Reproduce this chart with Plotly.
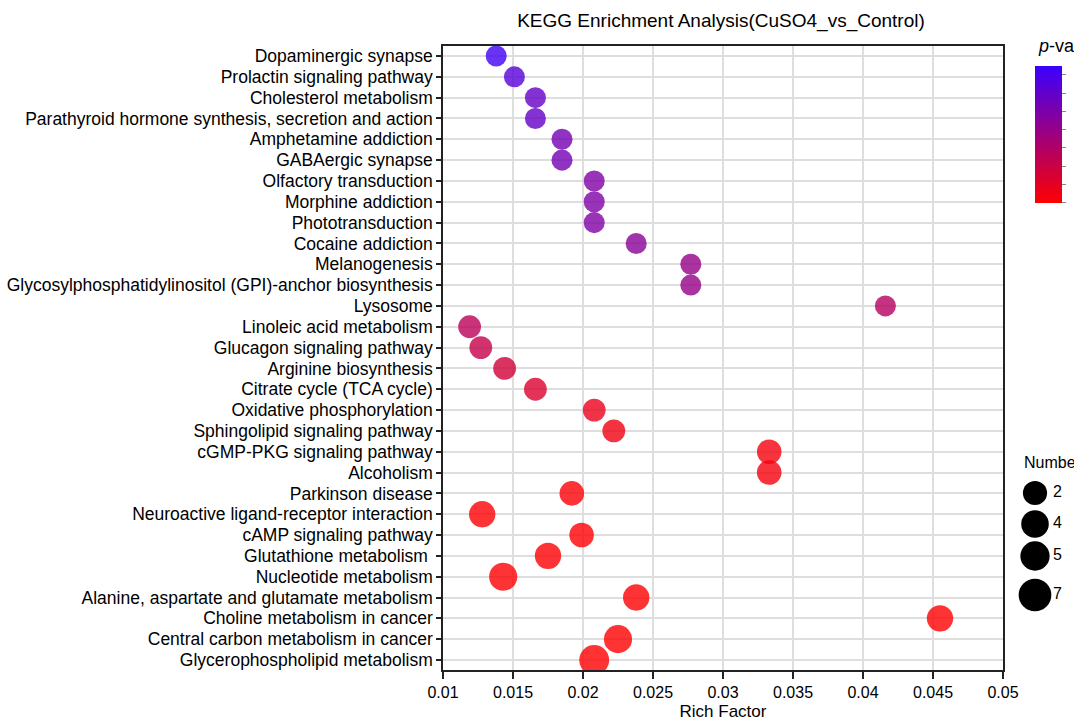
import plotly.graph_objects as go

# ---------------- data ----------------
pathways = [
    "Dopaminergic synapse",
    "Prolactin signaling pathway",
    "Cholesterol metabolism",
    "Parathyroid hormone synthesis, secretion and action",
    "Amphetamine addiction",
    "GABAergic synapse",
    "Olfactory transduction",
    "Morphine addiction",
    "Phototransduction",
    "Cocaine addiction",
    "Melanogenesis",
    "Glycosylphosphatidylinositol (GPI)-anchor biosynthesis",
    "Lysosome",
    "Linoleic acid metabolism",
    "Glucagon signaling pathway",
    "Arginine biosynthesis",
    "Citrate cycle (TCA cycle)",
    "Oxidative phosphorylation",
    "Sphingolipid signaling pathway",
    "cGMP-PKG signaling pathway",
    "Alcoholism",
    "Parkinson disease",
    "Neuroactive ligand-receptor interaction",
    "cAMP signaling pathway",
    "Glutathione metabolism ",
    "Nucleotide metabolism",
    "Alanine, aspartate and glutamate metabolism",
    "Choline metabolism in cancer",
    "Central carbon metabolism in cancer",
    "Glycerophospholipid metabolism",
]
rich_factor = [
    0.0138, 0.0151, 0.0166, 0.0166, 0.0185, 0.0185, 0.0208, 0.0208, 0.0208, 0.0238,
    0.0277, 0.0277, 0.0416, 0.0119, 0.0127, 0.0144, 0.0166, 0.0208, 0.0222, 0.0333,
    0.0333, 0.0192, 0.0128, 0.0199, 0.0175, 0.0143, 0.0238, 0.0455, 0.0225, 0.0208,
]
numbers = [
    2, 2, 2, 2, 2, 2, 2, 2, 2, 2,
    2, 2, 2, 3, 3, 3, 3, 3, 3, 4,
    4, 4, 5, 4, 5, 6, 5, 5, 6, 7,
]
p_values = [
    0.0712, 0.0640, 0.0585, 0.0585, 0.0525, 0.0525, 0.0488, 0.0488, 0.0488, 0.0450,
    0.0400, 0.0400, 0.0282, 0.0255, 0.0218, 0.0172, 0.0135, 0.0075, 0.0052, 0.0038,
    0.0038, 0.0015, 0.0012, 0.0010, 0.0009, 0.0007, 0.0005, 0.0004, 0.0003, 0.0001,
]
x_tickvals = [0.01, 0.015, 0.02, 0.025, 0.03, 0.035, 0.04, 0.045, 0.05]
x_ticktext = ["0.01", "0.015", "0.02", "0.025", "0.03", "0.035", "0.04", "0.045", "0.05"]
cbar_tickvals = [0.0, 0.01, 0.02, 0.03, 0.04, 0.05, 0.06, 0.07]
legend_numbers = [2, 4, 5, 7]

# ---------------- style ----------------
FONT = "Arial, Liberation Sans, Helvetica, sans-serif"
W, H = 1074, 721
L, T, B = 443, 46, 51
PLOT_RIGHT = 1003
paper_w = W - L
main_dom = (PLOT_RIGHT - L) / paper_w
colorscale = [[0.0, "rgb(255,0,0)"], [1.0, "rgb(58,0,255)"]]


def dot_size(n):
    return 17.5 + 1.77 * n


def legend_size(n):
    return 20.8 + 1.7 * n


n_cat = len(pathways)
pad = 0.48

fig = go.Figure()
fig.add_trace(go.Scatter(
    x=rich_factor,
    y=pathways,
    mode="markers",
    marker=dict(
        size=[dot_size(n) for n in numbers],
        color=p_values,
        colorscale=colorscale,
        cmin=0.0,
        cmax=0.075,
        opacity=0.8,
        line=dict(width=0),
        showscale=True,
        colorbar=dict(
            xref="container", x=1035 / W, xanchor="left",
            yref="container", y=1 - 76 / H, yanchor="top",
            len=137, lenmode="pixels",
            thickness=27, thicknessmode="pixels",
            xpad=0, ypad=0,
            outlinewidth=0,
            ticks="outside", ticklen=4, tickcolor="#888",
            tickvals=cbar_tickvals,
            showticklabels=False,
        ),
    ),
    showlegend=False,
    hoverinfo="x+y",
))

# size legend
fig.add_trace(go.Scatter(
    x=[1035] * len(legend_numbers),
    y=[493, 524, 556, 595],
    mode="markers",
    marker=dict(size=[legend_size(n) for n in legend_numbers], color="#000000",
                opacity=1.0, line=dict(width=0)),
    xaxis="x2", yaxis="y2", showlegend=False, hoverinfo="skip",
))
fig.add_trace(go.Scatter(
    x=[1053] * len(legend_numbers),
    y=[493, 524, 556, 595],
    mode="text",
    text=[str(n) for n in legend_numbers],
    textposition="middle right",
    textfont=dict(family=FONT, size=16, color="black"),
    xaxis="x2", yaxis="y2", showlegend=False, hoverinfo="skip",
))

fig.update_layout(
    width=W, height=H,
    margin=dict(l=L, r=0, t=T, b=B, autoexpand=False),
    paper_bgcolor="white",
    plot_bgcolor="white",
    font=dict(family=FONT, size=16, color="black"),
    title=dict(
        text="KEGG Enrichment Analysis(CuSO4_vs_Control)",
        xref="container", x=721 / W, xanchor="center",
        yref="container", y=1 - 20 / H, yanchor="middle",
        font=dict(family=FONT, size=19, color="black"),
    ),
    xaxis=dict(
        domain=[0, main_dom],
        range=[0.01, 0.05],
        tickmode="array",
        tickvals=x_tickvals, ticktext=x_ticktext,
        showgrid=True, gridcolor="#dedede", gridwidth=1.5,
        showline=True, linecolor="#222", linewidth=1.5, mirror=True,
        ticks="outside", ticklen=7, tickcolor="#222", tickwidth=1.5,
        tickfont=dict(family=FONT, size=16, color="black"),
        zeroline=False,
        title=dict(text="Rich Factor", font=dict(family=FONT, size=17, color="black"), standoff=13),
    ),
    yaxis=dict(
        type="category",
        categoryorder="array", categoryarray=pathways,
        range=[n_cat - 1 + pad, -pad],
        tickmode="linear", tick0=0, dtick=1,
        showgrid=True, gridcolor="#dedede", gridwidth=1.5,
        showline=True, linecolor="#222", linewidth=1.5, mirror=True,
        ticks="outside", ticklen=5, tickcolor="#222", tickwidth=1.5,
        tickfont=dict(family=FONT, size=17.5, color="black"),
        zeroline=False,
    ),
    xaxis2=dict(
        domain=[(1010 - L) / paper_w, 1.0], range=[1010, 1074],
        visible=False, fixedrange=True, anchor="y2",
    ),
    yaxis2=dict(
        domain=[0, 1], range=[H - B, T],
        visible=False, fixedrange=True, anchor="x2",
    ),
    annotations=[
        dict(text="<i>p</i>-value", xref="paper", x=(1036 - L) / paper_w, xanchor="left",
             yref="paper", y=1, yanchor="middle",
             showarrow=False, font=dict(family=FONT, size=18, color="black")),
        dict(text="Number", xref="x2", x=1022, xanchor="left",
             yref="y2", y=462, yanchor="middle",
             showarrow=False, font=dict(family=FONT, size=16, color="black")),
    ],
)

fig.write_html("out.html")
